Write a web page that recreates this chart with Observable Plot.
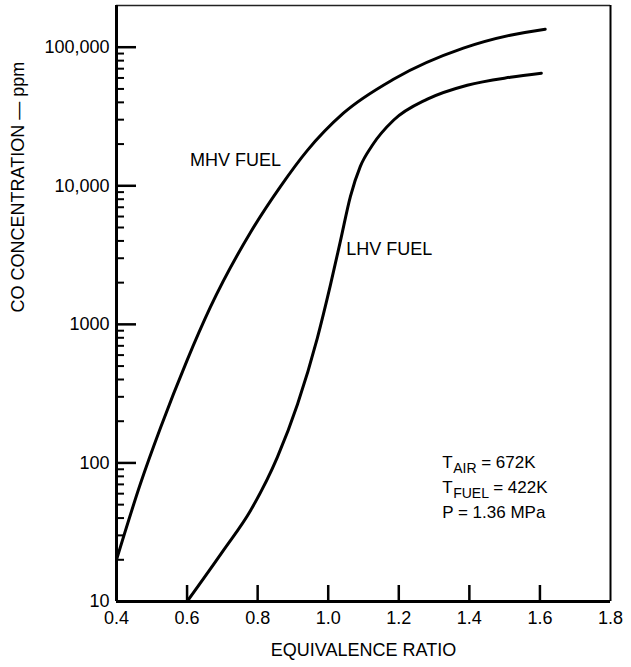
<!DOCTYPE html>
<html>
<head>
<meta charset="utf-8">
<script src="https://cdn.jsdelivr.net/npm/d3@7"></script>
<script src="https://cdn.jsdelivr.net/npm/@observablehq/plot@0.6"></script>
<style>
  html, body { margin: 0; padding: 0; background: #fff; }
  svg { display: block; }
</style>
</head>
<body>
<div id="chart"></div>
<script>
// ---- data ----
const mhvPhi = [0.40, 0.468, 0.525, 0.60, 0.666, 0.78, 0.865, 0.941, 1.043, 1.185, 1.383, 1.516, 1.615];
const mhvCO  = [20, 71, 180, 550, 1330, 4620, 9900, 18000, 33400, 58700, 98400, 122000, 135000];

const lhvPhi = [0.60, 0.703, 0.78, 0.856, 0.913, 0.969, 1.006, 1.035, 1.063, 1.091, 1.125, 1.185, 1.281, 1.394, 1.516, 1.604];
const lhvCO  = [10, 23.4, 45.4, 110, 265, 793, 1910, 4040, 8400, 13800, 19600, 29700, 42200, 53200, 60700, 64900];

const xTickVals  = [0.6, 0.8, 1.0, 1.2, 1.4, 1.6];
const xLabelVals = [0.4, 0.6, 0.8, 1.0, 1.2, 1.4, 1.6, 1.8];
const yMajor     = [10, 100, 1000, 10000, 100000];
const yLabels    = ["10", "100", "1000", "10,000", "100,000"];
const yMinorMult = [2, 3, 4, 5, 6, 7, 8, 9];
const yMinorDecades = [10, 100, 1000, 10000];

const curveNames = ["MHV FUEL", "LHV FUEL"];
const curveLabelPhi = [0.737, 1.173];
const curveLabelCO  = [15300, 3470];

const condPhi = 1.323;
const condCO  = 100;
const condMain = ["T", "T", "P = 1.36 MPa"];
const condSub  = ["AIR", "FUEL", ""];
const condRest = ["= 672K", "= 422K", ""];

const xTitle = "EQUIVALENCE RATIO";
const yTitle = "CO CONCENTRATION \u2014 ppm";

// ---- build tables ----
const mhv = mhvPhi.map((x, i) => ({x, y: mhvCO[i]}));
const lhv = lhvPhi.map((x, i) => ({x, y: lhvCO[i]}));
const yMinor = yMinorDecades.flatMap(d => yMinorMult.map(m => d * m));
const labels = curveNames.map((t, i) => ({t, x: curveLabelPhi[i], y: curveLabelCO[i]}));

const W = 631, H = 667, mL = 116, mR = 21, mT = 5, mB = 66;
const frameW = W - mL - mR, frameH = H - mT - mB;
const subDx = [11, 11, 0], restDx = [39, 51, 0];

const chart = Plot.plot({
  width: W, height: H,
  marginLeft: mL, marginRight: mR, marginTop: mT, marginBottom: mB,
  style: {fontFamily: "'Liberation Sans', Arial, Helvetica, sans-serif", fontSize: "18px", background: "#fff"},
  x: {domain: [0.4, 1.8], ticks: xLabelVals, tickSize: 0, tickPadding: 10, tickFormat: d => d.toFixed(1), label: null},
  y: {type: "log", domain: [10, 200000], ticks: yMajor, tickSize: 0, tickPadding: 7,
      tickFormat: d => yLabels[yMajor.indexOf(d)], label: null},
  marks: [
    // inward ticks
    Plot.ruleX(xTickVals, {x: d => d, insetTop: frameH - 16, stroke: "black", strokeWidth: 2.5}),
    Plot.ruleY(yMajor.slice(1), {y: d => d, insetRight: frameW - 20, stroke: "black", strokeWidth: 2.5}),
    Plot.ruleY(yMinor, {y: d => d, insetRight: frameW - 8, stroke: "black", strokeWidth: 2}),
    // frame
    Plot.ruleY([200000], {stroke: "#222", strokeWidth: 1.5}),
    Plot.ruleX([1.8], {stroke: "black", strokeWidth: 2}),
    Plot.ruleX([0.4], {stroke: "black", strokeWidth: 3}),
    Plot.ruleY([10], {stroke: "black", strokeWidth: 3}),
    // curves
    Plot.line(mhv, {x: "x", y: "y", curve: "monotone-x", stroke: "black", strokeWidth: 3}),
    Plot.line(lhv, {x: "x", y: "y", curve: "monotone-x", stroke: "black", strokeWidth: 3}),
    // curve labels
    Plot.text(labels, {x: "x", y: "y", text: "t", fontSize: 18}),
    // conditions block
    ...condMain.map((t, i) => Plot.text([t], {x: () => condPhi, y: () => condCO, text: d => d, textAnchor: "start", dy: i * 25, fontSize: 17})),
    ...condSub.map((t, i) => Plot.text([t], {x: () => condPhi, y: () => condCO, text: d => d, textAnchor: "start", dx: subDx[i], dy: i * 25 + 6, fontSize: 14})),
    ...condRest.map((t, i) => Plot.text([t], {x: () => condPhi, y: () => condCO, text: d => d, textAnchor: "start", dx: restDx[i], dy: i * 25, fontSize: 17})),
    // axis titles
    Plot.text([xTitle], {frameAnchor: "bottom", text: d => d, dy: 54, fontSize: 18}),
    Plot.text([yTitle], {frameAnchor: "left", text: d => d, rotate: -90, dx: -(mL - 18), dy: 9, fontSize: 18})
  ]
});
document.getElementById("chart").append(chart);
</script>
</body>
</html>
